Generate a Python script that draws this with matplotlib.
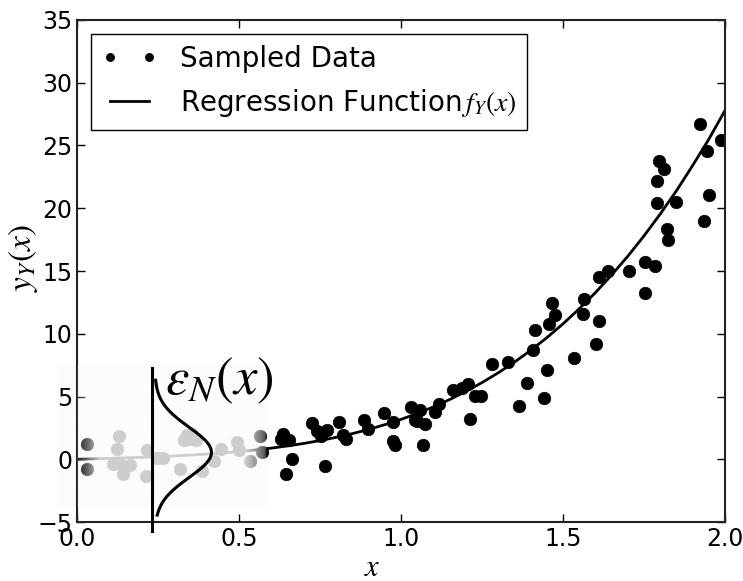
import numpy as np
import matplotlib
matplotlib.use("Agg")
import matplotlib.pyplot as plt
from matplotlib.patches import Rectangle

plt.rcParams['mathtext.fontset'] = 'stix'
plt.rcParams['font.family'] = 'DejaVu Sans'

# sampled data (x, y)
sample_x = [0.032, 0.032, 0.112, 0.122, 0.130, 0.133, 0.143, 0.164, 0.215, 0.214,
            0.246, 0.267, 0.317, 0.330, 0.340, 0.350, 0.356, 0.366, 0.387, 0.422,
            0.443, 0.493, 0.500, 0.534, 0.565, 0.572,
            0.629, 0.635, 0.644, 0.655, 0.664, 0.725, 0.742, 0.752, 0.767, 0.771,
            0.809, 0.822, 0.830, 0.887, 0.899, 0.948, 0.974, 0.976, 0.981, 1.031,
            1.043, 1.048, 1.060, 1.067, 1.073, 1.105, 1.118, 1.160, 1.187, 1.207,
            1.213, 1.229, 1.246, 1.281, 1.331, 1.363, 1.390, 1.406, 1.415, 1.442,
            1.451, 1.458, 1.467, 1.474, 1.535, 1.561, 1.564, 1.603, 1.612, 1.612,
            1.639, 1.703, 1.754, 1.754, 1.783, 1.790, 1.790, 1.797, 1.812, 1.822,
            1.824, 1.848, 1.923, 1.935, 1.945, 1.952, 1.987]
sample_y = [1.20, -0.77, -0.35, 0.85, 1.86, -0.35, -1.20, -0.48, 0.70, -1.30,
            0.13, 0.12, -0.80, 1.50, 1.90, 1.65, 2.00, 1.55, -0.95, -0.15,
            0.85, 1.35, 0.72, -0.10, 1.82, 0.60,
            1.65, 2.05, -1.14, 1.50, 0.00, 2.92, 2.26, 1.86, -0.50, 2.36,
            2.95, 1.91, 1.62, 3.10, 2.44, 3.69, 3.00, 1.43, 1.17, 4.17,
            3.16, 3.05, 3.90, 1.17, 2.81, 3.77, 4.43, 5.55, 5.68, 6.03,
            3.19, 5.02, 5.02, 7.60, 7.78, 4.22, 6.11, 8.68, 10.33, 4.91,
            7.09, 10.81, 12.45, 11.50, 8.10, 11.58, 12.75, 9.16, 11.02, 14.50,
            15.00, 15.00, 15.75, 13.28, 15.40, 20.45, 22.20, 23.80, 23.13, 18.35,
            17.50, 20.50, 26.75, 19.00, 24.57, 21.06, 25.40]

# regression function f_Y(x), sampled every 0.05
curve_x = [0.00, 0.05, 0.10, 0.15, 0.20, 0.25, 0.30, 0.35, 0.40, 0.45, 0.50,
           0.55, 0.60, 0.65, 0.70, 0.75, 0.80, 0.85, 0.90, 0.95, 1.00,
           1.05, 1.10, 1.15, 1.20, 1.25, 1.30, 1.35, 1.40, 1.45, 1.50,
           1.55, 1.60, 1.65, 1.70, 1.75, 1.80, 1.85, 1.90, 1.95, 2.00]
curve_y = [0.000, 0.036, 0.074, 0.114, 0.158, 0.209, 0.267, 0.334, 0.413, 0.506, 0.615,
           0.742, 0.890, 1.063, 1.261, 1.489, 1.749, 2.044, 2.379, 2.756, 3.178,
           3.650, 4.175, 4.757, 5.401, 6.110, 6.888, 7.741, 8.672, 9.688, 10.79,
           11.99, 13.28, 14.68, 16.18, 17.80, 19.54, 21.39, 23.40, 25.50, 27.80]

# noise density sketch
noise_x0 = 0.24      # baseline of the density
noise_peak = 0.175   # height of the bump in x units
noise_mu = 0.55
noise_sigma = 2.0

fig = plt.figure(figsize=(7.43, 5.81), dpi=100)
ax = fig.add_axes([0.1036, 0.1015, 0.8722, 0.8641])

ax.plot(sample_x, sample_y, 'o', color='black', markersize=9,
        markeredgewidth=0.5, zorder=2, label='Sampled Data')
ax.plot(curve_x, curve_y, color='black', lw=2.0, zorder=2,
        label='Regression Function$\\,f_Y(x)$')

# faded region under the noise sketch
box_x0, box_x1 = -0.062, 0.585
box_y0, box_y1 = -3.8, 7.5
ax.add_patch(Rectangle((box_x0, box_y0), box_x1 - box_x0, box_y1 - box_y0,
                       facecolor='#fcfcfc', edgecolor='none', zorder=0.5,
                       clip_on=False))
gx = np.linspace(0.0, box_x1, 400)
alpha = np.interp(gx, [0.0, 0.031, 0.07, 0.52, 0.565, 0.58, box_x1],
                  [0.12, 0.4, 0.82, 0.82, 0.5, 0.35, 0.0])
over = np.ones((1, gx.size, 4)) * (252 / 255)
over[0, :, 3] = alpha
ax.imshow(over, extent=[0.0, box_x1, box_y0, box_y1], aspect='auto',
          interpolation='bilinear', zorder=3)

yy = np.linspace(-4.45, 6.3, 200)
xx = noise_x0 + noise_peak * np.exp(-0.5 * ((yy - noise_mu) / noise_sigma) ** 2)
ax.plot(xx, yy, color='black', lw=2.2, zorder=4)
ax.plot([0.231, 0.231], [-5.7, 7.25], color='black', lw=2.2, zorder=4,
        clip_on=False)
ax.text(0.272, 5.2, r'$\varepsilon_N(x)$', fontsize=38, zorder=4)

ax.set_xlim(0, 2)
ax.set_ylim(-5, 35)
ax.set_xticks([0.0, 0.5, 1.0, 1.5, 2.0])
ax.set_yticks(range(-5, 36, 5))
ax.tick_params(direction='in', top=True, right=True, length=6,
               labelsize=17, width=1)
for s in ax.spines.values():
    s.set_linewidth(1.5)
    s.set_color('#222222')

ax.set_xlabel('$x$', fontsize=22)
ax.set_ylabel('$y_Y(x)$', fontsize=24)
ax.xaxis.set_label_coords(0.455, -0.062)
ax.yaxis.set_label_coords(-0.057, 0.526)

leg = ax.legend(loc='upper left', fontsize=20, fancybox=False, framealpha=1,
                edgecolor='black', numpoints=2, markerscale=0.65,
                handlelength=2.0, handletextpad=0.8, borderpad=0.4,
                borderaxespad=0.5)
leg.get_frame().set_linewidth(1.0)

fig.savefig('out.png', dpi=100)
